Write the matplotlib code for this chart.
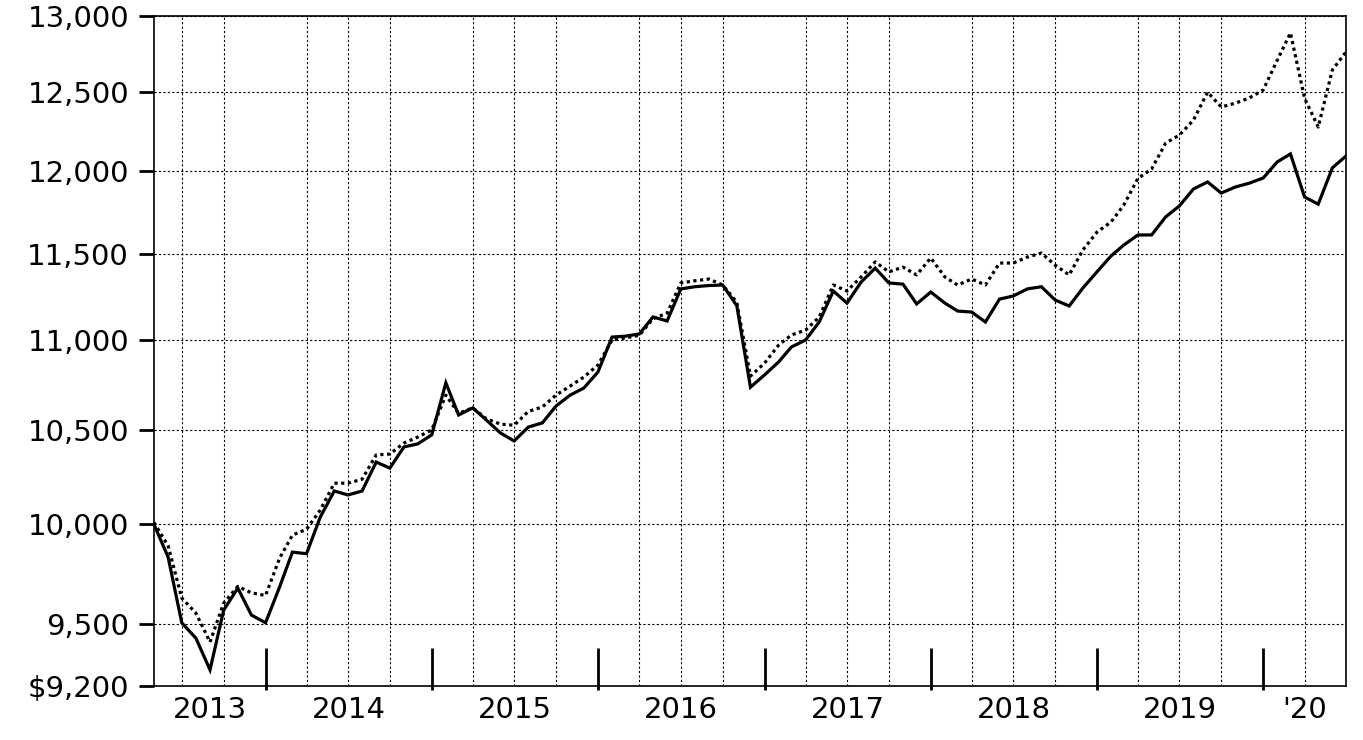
import pandas as pd
import matplotlib
matplotlib.use("Agg")
from matplotlib import pyplot as plt
from matplotlib import dates as mdates
from matplotlib import ticker
from matplotlib.transforms import blended_transform_factory

# monthly values, May 2013 .. Jul 2020
months = pd.date_range("2013-05-01", periods=87, freq="MS")

fund = [10000, 9833, 9505, 9430, 9277, 9567, 9677, 9543, 9505, 9683,
        9858, 9850, 10037, 10174, 10153, 10174, 10327, 10295, 10408, 10424,
        10473, 10758, 10581, 10620, 10553, 10483, 10440, 10515, 10538, 10630,
        10690, 10729, 10818, 11015, 11020, 11033, 11130, 11107, 11292, 11305,
        11312, 11315, 11195, 10734, 10802, 10875, 10959, 10998, 11101, 11280,
        11210, 11332, 11414, 11327, 11320, 11205, 11274, 11210, 11164, 11158,
        11101, 11233, 11251, 11292, 11305, 11228, 11193, 11297, 11392, 11486,
        11551, 11611, 11611, 11720, 11786, 11890, 11933, 11865, 11902, 11925,
        11957, 12057, 12107, 11841, 11797, 12020, 12094]

index = [10010, 9890, 9627, 9553, 9411, 9602, 9685, 9653, 9640, 9828,
         9945, 9975, 10074, 10215, 10215, 10236, 10365, 10370, 10429, 10461,
         10500, 10690, 10590, 10620, 10560, 10531, 10525, 10600, 10625, 10690,
         10740, 10790, 10857, 10998, 11010, 11025, 11120, 11152, 11327, 11340,
         11350, 11315, 11215, 10795, 10868, 10970, 11027, 11055, 11129, 11315,
         11280, 11362, 11451, 11392, 11420, 11374, 11474, 11362, 11315, 11350,
         11315, 11444, 11444, 11479, 11503, 11432, 11374, 11521, 11628, 11689,
         11792, 11955, 12013, 12175, 12225, 12320, 12499, 12404, 12428, 12461,
         12512, 12707, 12887, 12460, 12276, 12643, 12761]

y_ticks = [9200, 9500, 10000, 10500, 11000, 11500, 12000, 12500, 13000]
y_labels = ["$9,200", "9,500", "10,000", "10,500", "11,000", "11,500",
            "12,000", "12,500", "13,000"]
years = [2013, 2014, 2015, 2016, 2017, 2018, 2019, 2020]
year_labels = ["2013", "2014", "2015", "2016", "2017", "2018", "2019", "'20"]

plt.rcParams["font.family"] = ["DejaVu Sans"]

W, H = 1363, 740
fig = plt.figure(figsize=(W / 100, H / 100), dpi=100)
ax = fig.add_axes([154 / W, (H - 686) / H, (1346 - 154) / W, (686 - 16) / H])

ax.plot(months, index, color="black", lw=2.3, linestyle=(0, (1, 1.1)))
ax.plot(months, fund, color="black", lw=2.3, solid_joinstyle="miter")

ax.set_yscale("log")
ax.set_ylim(9200, 13000)
ax.yaxis.set_major_locator(ticker.FixedLocator(y_ticks))
ax.yaxis.set_major_formatter(ticker.FixedFormatter(y_labels))
ax.yaxis.set_minor_locator(ticker.NullLocator())
ax.tick_params(axis="y", which="major", direction="out", length=11, width=2,
               labelsize=21, pad=7, colors="black")

ax.set_xlim(months[0], months[-1])
ax.xaxis.set_major_locator(mdates.YearLocator())
ax.xaxis.set_major_formatter(ticker.NullFormatter())
ax.xaxis.set_minor_locator(mdates.MonthLocator(bymonth=[1, 4, 7, 10]))
ax.xaxis.set_minor_formatter(ticker.NullFormatter())
ax.tick_params(axis="x", which="both", length=0)

ax.grid(True, axis="y", which="major", color="black", lw=0.8, linestyle=(0, (2, 2)))
ax.grid(True, axis="x", which="minor", color="black", lw=0.8, linestyle=(0, (2, 2)))

for sp in ax.spines.values():
    sp.set_linewidth(1.2)
    sp.set_color("black")

trans = blended_transform_factory(ax.transData, ax.transAxes)

# year separators: mostly inside the plot, poking a little below the axis
year_starts = [pd.Timestamp(yr, 1, 1) for yr in years[1:]]
ax.vlines(year_starts, -0.006, 0.057, transform=trans, colors="black",
          lw=2, clip_on=False)

# year labels centred on the visible part of each year
x0, x1 = mdates.date2num(months[0]), mdates.date2num(months[-1])
for yr, lab in zip(years, year_labels):
    a = max(mdates.date2num(pd.Timestamp(yr, 1, 1)), x0)
    b = min(mdates.date2num(pd.Timestamp(yr + 1, 1, 1)), x1)
    ax.annotate(lab, xy=((a + b) / 2, 0), xycoords=trans, xytext=(0, -7),
                textcoords="offset points", ha="center", va="top", fontsize=21)

fig.savefig("out.png", dpi=100)
